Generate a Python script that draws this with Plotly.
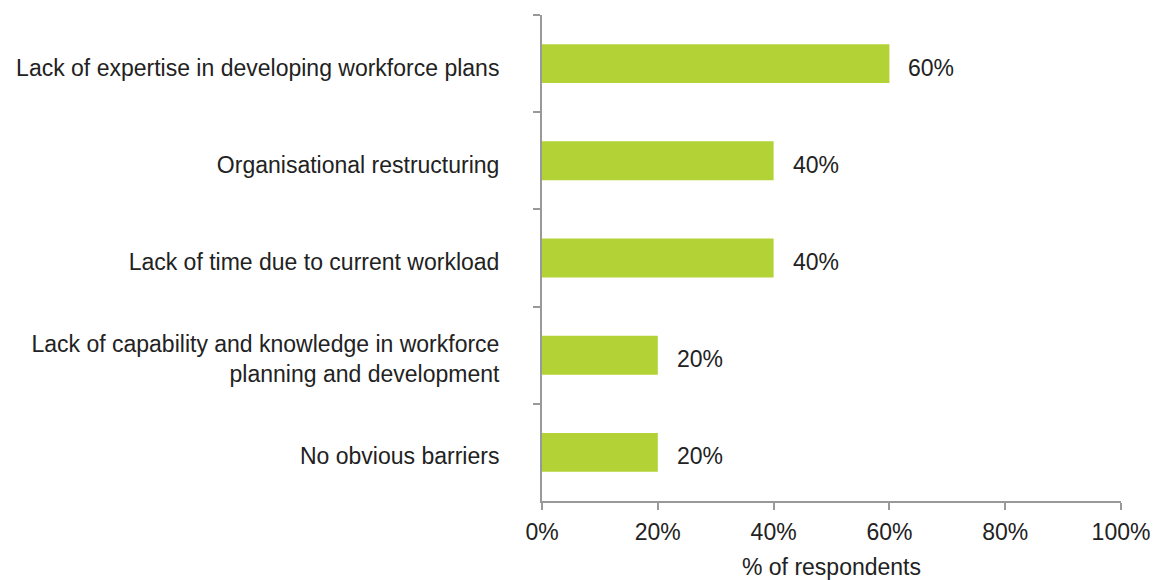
import plotly.graph_objects as go

categories = [
    "Lack of expertise in developing workforce plans",
    "Organisational restructuring",
    "Lack of time due to current workload",
    "Lack of capability and knowledge in workforce<br>planning and development",
    "No obvious barriers",
]
values = [60, 40, 40, 20, 20]
x_ticks = [0, 20, 40, 60, 80, 100]
x_tick_labels = ["0%", "20%", "40%", "60%", "80%", "100%"]

bar_color = "#b3d236"
axis_color = "#999999"
text_color = "#222222"
font_family = "Liberation Sans, Arial, sans-serif"
fs = 23

fig = go.Figure(
    go.Bar(
        x=values,
        y=categories,
        orientation="h",
        marker=dict(color=bar_color, line=dict(width=0)),
        width=0.4,
        hoverinfo="skip",
    )
)

for cat, val in zip(categories, values):
    fig.add_annotation(
        x=val, y=cat, text=f"{val}%", showarrow=False,
        xanchor="left", xshift=17, yanchor="middle", yshift=-4,
        font=dict(size=fs, color=text_color, family=font_family),
    )

fig.update_layout(
    width=1161, height=580,
    margin=dict(l=542, r=40, t=15, b=79),
    plot_bgcolor="white", paper_bgcolor="white",
    showlegend=False,
    font=dict(family=font_family, size=fs, color=text_color),
    xaxis=dict(
        range=[0, 100], tickvals=x_ticks, ticktext=x_tick_labels,
        automargin=False,
        showgrid=False, zeroline=False,
        showline=True, linecolor=axis_color, linewidth=2,
        ticks="outside", ticklen=7, tickwidth=2, tickcolor=axis_color,
        ticklabelstandoff=2,
        tickfont=dict(size=fs, color=text_color),
        title=dict(text="% of respondents", standoff=23,
                   font=dict(size=fs, color=text_color)),
    ),
    yaxis=dict(
        autorange="reversed",
        automargin=False,
        showgrid=False, zeroline=False,
        showline=True, linecolor=axis_color, linewidth=2,
        ticks="outside", ticklen=7, tickwidth=2, tickcolor=axis_color,
        tickson="boundaries",
        ticklabelstandoff=36,
        ticklabelshift=-4,
        tickfont=dict(size=fs, color=text_color),
    ),
)

fig.write_html("out.html")
